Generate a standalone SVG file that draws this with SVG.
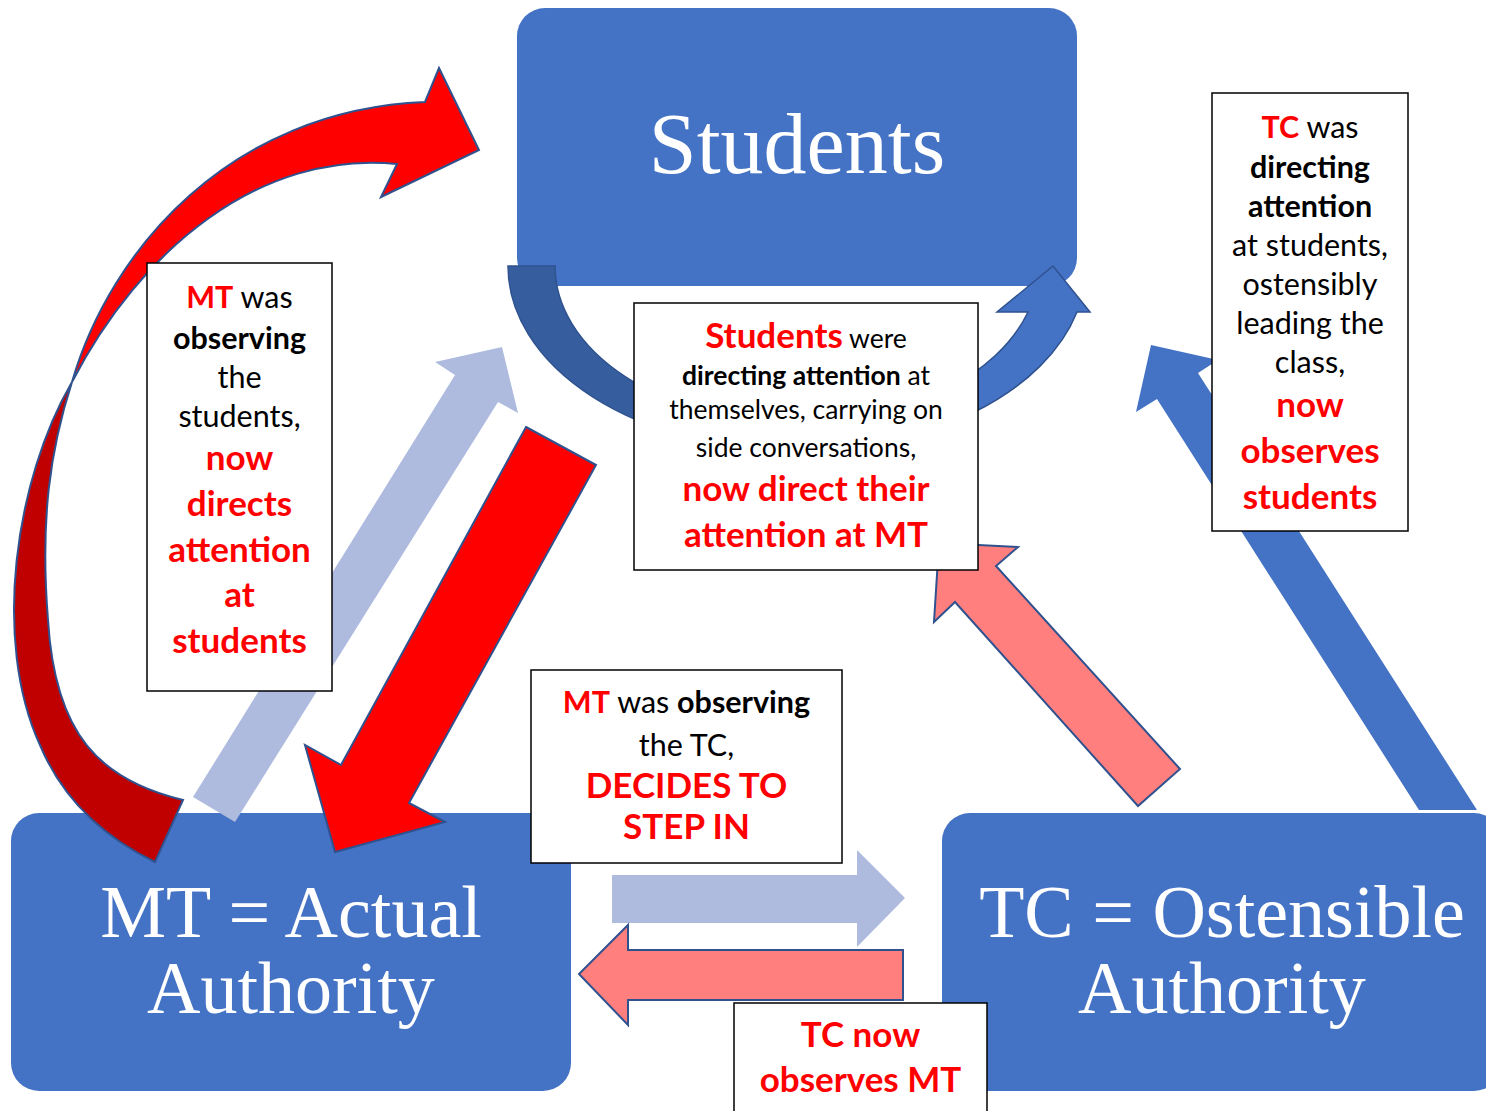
<svg xmlns="http://www.w3.org/2000/svg" width="1486" height="1111" viewBox="0 0 1486 1111">
<style>
.box{fill:#4472C4}
.title{font-family:"Liberation Serif","Times New Roman",serif;fill:#fff;text-anchor:middle}
.note{fill:#fff;stroke:#000;stroke-width:1.5}
.t{font-family:Lato,"Liberation Sans",sans-serif;text-anchor:middle;fill:#000;font-size:30.5px}
.s{font-size:26.5px}
.r{fill:#FF0000;font-weight:bold;font-size:35px}
.b{font-weight:bold}
.o{stroke:#2F528F;stroke-width:2;stroke-linejoin:miter}
.lb{fill:#AEBBDE}
.pk{fill:#FF0000;fill-opacity:0.5}
</style>
<rect width="1486" height="1111" fill="#fff"/>
<g id="node-students">
<rect class="box" x="517" y="8" width="560" height="278" rx="28"/>
<text class="title" x="797" y="173" font-size="86">Students</text>
</g>
<g id="node-mt">
<rect class="box" x="11" y="813" width="560" height="278" rx="28"/>
<text class="title" x="291" y="937" font-size="74">MT = Actual</text>
<text class="title" x="291" y="1013" font-size="74">Authority</text>
</g>
<g id="node-tc">
<rect class="box" x="942" y="813" width="560" height="278" rx="28"/>
<text class="title" x="1222" y="937" font-size="74">TC = Ostensible</text>
<text class="title" x="1222" y="1013" font-size="74">Authority</text>
</g>
<g id="connectors">
<path class="lb" d="M193,797 L455,375 L435,362 L502,347 L518,413 L498,402 L235,822 Z"/>
<path class="o" fill="#FF0000" d="M526,427 L596,465 L409,803 L445,822 L335,852 L305,745 L341,765 Z"/>
<path class="o" fill="#C00000" d="M72,382 C15,480 -8,640 40,745 C65,805 110,840 155,862 L183,800 C100,780 55,735 48,620 C40,520 50,450 72,382 Z"/>
<path class="o" fill="#FF0000" d="M72,382 C110,250 230,110 425,102 L439,68 L479,150 L381,197 L397,164 C260,150 140,250 72,382 Z"/>
<path fill="#365E9F" stroke="#2F528F" stroke-width="1.5" d="M508,266 A289,185 0 0 0 797,451 L797,423 A242,157 0 0 1 555,266 Z"/>
<path fill="#4472C4" stroke="#2F528F" stroke-width="1.5" d="M797,451 A289,185 0 0 0 1077,312 L1090,312 L1053,266 L997,312 L1028,312 A242,157 0 0 1 797,423 Z"/>
<path fill="#4472C4" d="M1419,810 L1157,399 L1136,412 L1151,345 L1218,360 L1198,373 L1477,810 Z"/>
<path class="pk o" d="M1138,806 L955,602 L934,622 L939,543 L1018,547 L996,566 L1180,769 Z"/>
<path class="lb" d="M612,875 L857,875 L857,850 L905,898 L857,947 L857,923 L612,923 Z"/>
<path class="pk o" d="M903,950 L628,950 L628,925 L579,974 L628,1025 L628,1000 L903,1000 Z"/>
</g>
<g id="note-mt-students">
<rect class="note" x="147" y="263" width="185" height="428"/>
<text class="t" x="239.5" y="308"><tspan class="b" fill="#FF0000">MT</tspan> was</text>
<text class="t b" x="239.5" y="349">observing</text>
<text class="t" x="239.5" y="388">the</text>
<text class="t" x="239.5" y="427">students,</text>
<text class="t r" x="239.5" y="470">now</text>
<text class="t r" x="239.5" y="516">directs</text>
<text class="t r" x="239.5" y="562">attention</text>
<text class="t r" x="239.5" y="607">at</text>
<text class="t r" x="239.5" y="653">students</text>
</g>
<g id="note-students">
<rect class="note" x="634" y="303" width="344" height="267"/>
<text class="t s" x="806" y="348"><tspan class="r">Students</tspan> were</text>
<text class="t s" x="806" y="385"><tspan class="b">directing attention</tspan> at</text>
<text class="t s" x="806" y="419">themselves, carrying on</text>
<text class="t s" x="806" y="457">side conversations,</text>
<text class="t r" x="806" y="501">now direct their</text>
<text class="t r" x="806" y="547">attention at MT</text>
</g>
<g id="note-tc-students">
<rect class="note" x="1212" y="93" width="196" height="438"/>
<text class="t" x="1310" y="138"><tspan class="b" fill="#FF0000">TC</tspan> was</text>
<text class="t b" x="1310" y="178">directing</text>
<text class="t b" x="1310" y="217">attention</text>
<text class="t" x="1310" y="256">at students,</text>
<text class="t" x="1310" y="295">ostensibly</text>
<text class="t" x="1310" y="334">leading the</text>
<text class="t" x="1310" y="373">class,</text>
<text class="t r" x="1310" y="417">now</text>
<text class="t r" x="1310" y="463">observes</text>
<text class="t r" x="1310" y="509">students</text>
</g>
<g id="note-mt-tc">
<rect class="note" x="531" y="670" width="311" height="193"/>
<text class="t" x="686.5" y="713"><tspan class="b" fill="#FF0000">MT</tspan> was <tspan class="b">observing</tspan></text>
<text class="t" x="686.5" y="756">the TC,</text>
<text class="t r" x="686.5" y="798" font-size="33">DECIDES TO</text>
<text class="t r" x="686.5" y="839" font-size="33">STEP IN</text>
</g>
<g id="note-tc-mt">
<rect class="note" x="734" y="1003" width="253" height="115"/>
<text class="t r" x="860.5" y="1047">TC now</text>
<text class="t r" x="860.5" y="1092">observes MT</text>
</g>
</svg>
